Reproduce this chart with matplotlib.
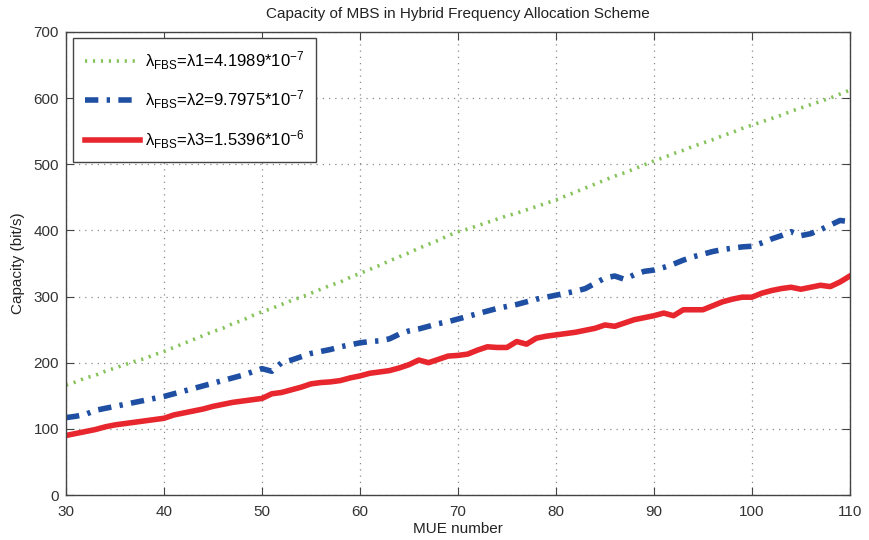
import numpy as np
import matplotlib.pyplot as plt

# MUE number axis
mue = list(range(30, 111))

# capacity (bit/s), one value per MUE
cap_l1 = [166, 171, 177, 181, 187, 192, 197, 202, 206, 212, 217,
          223, 229, 235, 241, 247, 252, 259, 264, 271, 277,
          282, 288, 294, 299, 305, 311, 317, 322, 329, 335,
          341, 347, 354, 360, 366, 373, 379, 385, 392, 398,
          402, 407, 412, 417, 422, 426, 431, 436, 441, 446,
          452, 458, 464, 470, 476, 482, 487, 493, 499, 505,
          510, 516, 521, 527, 532, 537, 543, 548, 554, 559,
          564, 569, 574, 580, 585, 590, 595, 600, 606, 612]
cap_l2 = [117, 119, 122, 128, 131, 134, 137, 140, 143, 146, 149,
          153, 157, 161, 165, 169, 173, 177, 181, 186, 191,
          187, 200, 204, 209, 214, 217, 220, 224, 227, 230,
          232, 233, 236, 243, 248, 251, 255, 259, 262, 266,
          270, 274, 278, 282, 285, 288, 292, 296, 299, 302,
          305, 308, 312, 320, 328, 331, 326, 333, 338, 340,
          344, 349, 355, 360, 364, 368, 371, 373, 375, 376,
          381, 387, 392, 398, 392, 395, 401, 408, 415, 413]
cap_l3 = [90, 93, 96, 99, 103, 106, 108, 110, 112, 114, 116,
          121, 124, 127, 130, 134, 137, 140, 142, 144, 146,
          153, 155, 159, 163, 168, 170, 171, 173, 177, 180,
          184, 186, 188, 192, 197, 204, 200, 205, 210, 211,
          213, 219, 224, 223, 223, 232, 228, 237, 240, 242,
          244, 246, 249, 252, 257, 255, 260, 265, 268, 271,
          275, 271, 280, 280, 280, 286, 292, 296, 299, 299,
          305, 309, 312, 314, 311, 314, 317, 315, 322, 331]

labels = [r'$\lambda_{FBS}$=$\lambda$1=4.1989*10$^{-7}$',
          r'$\lambda_{FBS}$=$\lambda$2=9.7975*10$^{-7}$',
          r'$\lambda_{FBS}$=$\lambda$3=1.5396*10$^{-6}$']

plt.rcParams['font.family'] = ['Liberation Sans', 'DejaVu Sans']
plt.rcParams['mathtext.default'] = 'regular'
plt.rcParams['font.size'] = 11

fig = plt.figure(figsize=(8.69, 5.4), dpi=100)
ax = fig.add_axes([0.076, 0.0833, 0.902, 0.8577])

ax.plot(mue, cap_l1, color='#86c35a', linestyle=(0, (0.6, 1.6)), linewidth=2.6, label=labels[0])
ax.plot(mue, cap_l2, color='#1f4fa3', linestyle=(0, (2.4, 1.5, 0.6, 1.5)), linewidth=4, label=labels[1])
ax.plot(mue, cap_l3, color='#e8262d', linestyle='-', linewidth=4, label=labels[2])

ax.set_xlim(30, 110)
ax.set_ylim(0, 700)
ax.set_xticks(range(30, 111, 10))
ax.set_yticks(range(0, 701, 100))
ax.grid(True, linestyle=(0, (1, 4)), color='#8a8a8a', linewidth=0.9)
ax.tick_params(direction='in', top=True, right=True, length=6, colors='#444444',
               labelcolor='#333333', labelsize=11)
ax.tick_params(axis='x', pad=7)
ax.tick_params(axis='y', pad=5)
for s in ax.spines.values():
    s.set_color('#444444')
    s.set_linewidth(1.0)

ax.set_title('Capacity of MBS in Hybrid Frequency Allocation Scheme', fontsize=11, color='#222222', pad=10)
ax.set_xlabel('MUE number', fontsize=11, color='#222222', labelpad=2)
ax.set_ylabel('Capacity (bit/s)', fontsize=11, color='#222222', labelpad=6)

leg = ax.legend(loc='upper left', fontsize=12, fancybox=False, framealpha=1,
                edgecolor='#444444', handlelength=3.3, handletextpad=0.3, borderpad=0.7,
                labelspacing=1.0, borderaxespad=0.0, bbox_to_anchor=(0.009, 0.987))
leg.get_frame().set_linewidth(1.0)

fig.savefig('out.png', dpi=100)
